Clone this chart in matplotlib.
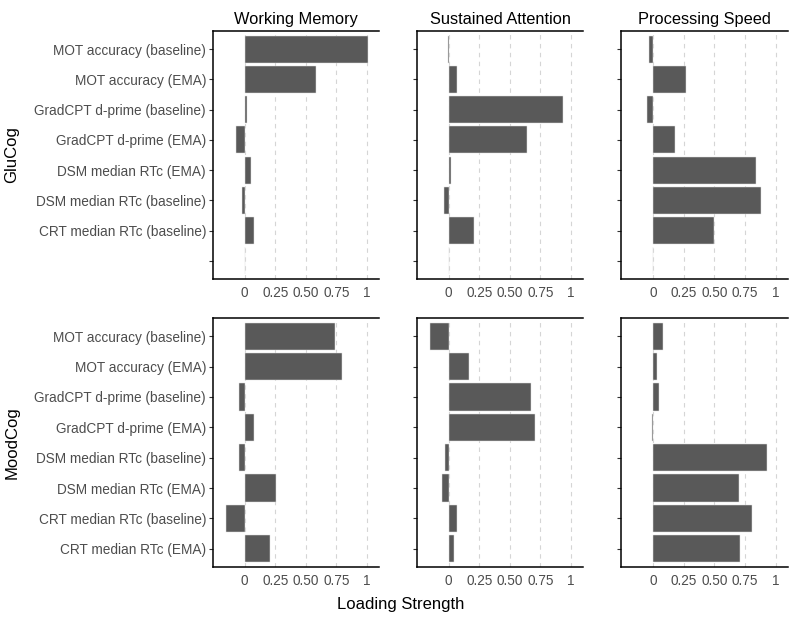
import numpy as np
import matplotlib
matplotlib.use("Agg")
import matplotlib.pyplot as plt

plt.rcParams['font.family'] = ['Liberation Sans', 'DejaVu Sans']

factors = ["Working Memory", "Sustained Attention", "Processing Speed"]

glu_labels = ["MOT accuracy (baseline)", "MOT accuracy (EMA)", "GradCPT d-prime (baseline)",
              "GradCPT d-prime (EMA)", "DSM median RTc (EMA)", "DSM median RTc (baseline)",
              "CRT median RTc (baseline)", ""]
glu_wm = [1.01, 0.58, 0.02, -0.07, 0.055, -0.02, 0.075, np.nan]
glu_sa = [-0.01, 0.07, 0.94, 0.64, 0.02, -0.04, 0.21, np.nan]
glu_ps = [-0.03, 0.27, -0.05, 0.18, 0.84, 0.88, 0.50, np.nan]

mood_labels = ["MOT accuracy (baseline)", "MOT accuracy (EMA)", "GradCPT d-prime (baseline)",
               "GradCPT d-prime (EMA)", "DSM median RTc (baseline)", "DSM median RTc (EMA)",
               "CRT median RTc (baseline)", "CRT median RTc (EMA)"]
mood_wm = [0.74, 0.80, -0.045, 0.077, -0.045, 0.26, -0.15, 0.205]
mood_sa = [-0.15, 0.17, 0.67, 0.71, -0.027, -0.052, 0.07, 0.045]
mood_ps = [0.082, 0.03, 0.05, -0.01, 0.925, 0.70, 0.81, 0.71]

rows = [("GluCog", glu_labels, [glu_wm, glu_sa, glu_ps]),
        ("MoodCog", mood_labels, [mood_wm, mood_sa, mood_ps])]

W, H = 797, 624
fig = plt.figure(figsize=(W / 100, H / 100), dpi=100)

col_x = [(213, 379), (417, 583), (621, 788)]
row_y = [(31, 279), (318, 567)]
xticks = [0, 0.25, 0.5, 0.75, 1]
xticklabels = ["0", "0.25", "0.50", "0.75", "1"]
gray = "#4D4D4D"

for r, (rname, labels, series) in enumerate(rows):
    y0, y1 = row_y[r]
    for c in range(3):
        x0, x1 = col_x[c]
        ax = fig.add_axes([x0 / W, 1 - y1 / H, (x1 - x0) / W, (y1 - y0) / H])
        pos = np.arange(len(labels))
        vals = np.array(series[c], dtype=float)
        ax.barh(pos, np.nan_to_num(vals), height=0.9, color="#595959",
                edgecolor="#E0E0E0", linewidth=0.35, zorder=3)
        ax.set_xlim(-0.26, 1.10)
        ax.set_ylim(len(labels) - 0.4, -0.6)
        ax.set_xticks(xticks)
        ax.set_xticklabels(xticklabels, fontsize=9.8, color=gray)
        ax.set_yticks(pos)
        if c == 0:
            ax.set_yticklabels(labels, fontsize=9.8, color=gray)
        else:
            ax.set_yticklabels([])
        ax.tick_params(axis="x", length=0, pad=5)
        ax.tick_params(axis="y", length=3, width=0.8, color="#333333", pad=2)
        for x in xticks:
            ax.axvline(x, color="#D5D5D5", linestyle=(0, (4, 4)), linewidth=0.8, zorder=1)
        ax.spines["right"].set_visible(False)
        for s in ["left", "top", "bottom"]:
            ax.spines[s].set_linewidth(1.1)
            ax.spines[s].set_color("black")
        if r == 0:
            ax.set_title(factors[c], fontsize=11.8, pad=5)
        if c == 0:
            fig.text(12 / W, 1 - (y0 + y1) / 2 / H, rname, rotation=90,
                     fontsize=12, ha="center", va="center")

fig.text(401 / W, 1 - 605 / H, "Loading Strength", fontsize=12, ha="center", va="center")

fig.savefig("out.png", dpi=100)
